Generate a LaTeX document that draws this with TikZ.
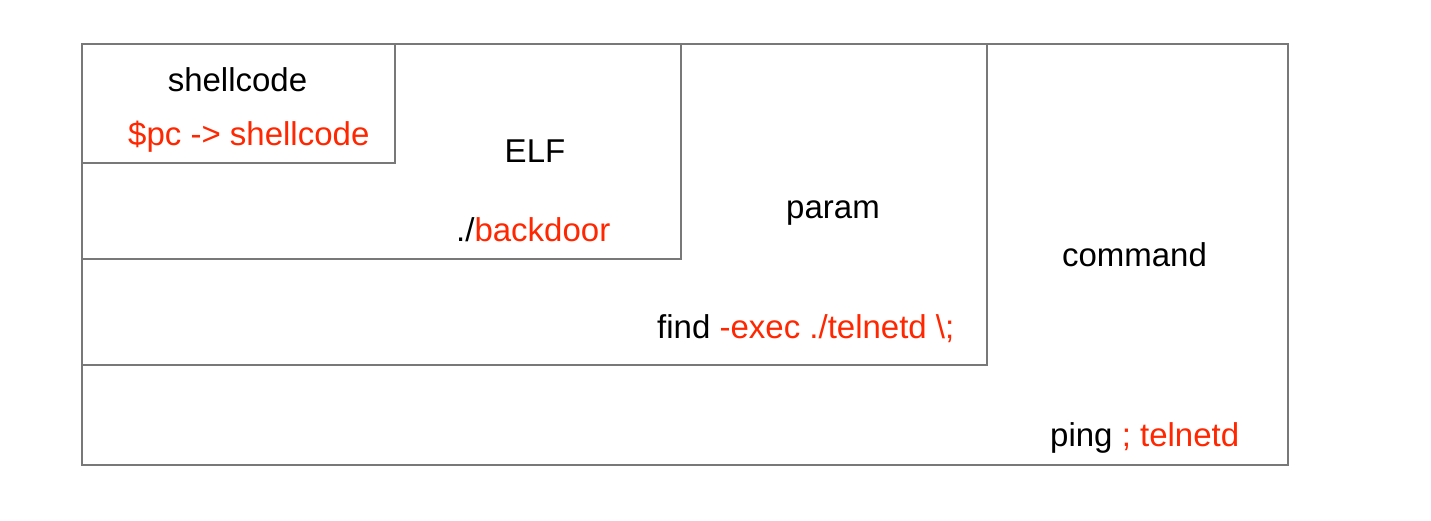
\documentclass[tikz,border=0pt]{standalone}
\usepackage{fontspec}
\setmainfont{Liberation Sans}
\usetikzlibrary{positioning}
\definecolor{boxline}{HTML}{787878}
\definecolor{hot}{HTML}{FF2600}

\begin{document}
\begin{tikzpicture}[x=1pt, y=-1pt,
    box/.style={draw=boxline, line width=1.6pt, anchor=north west, inner sep=0pt},
    lbl/.style={inner sep=0pt, font=\fontsize{33}{38}\selectfont}]
    \useasboundingbox (0,0) rectangle (1431,521);
    \node[box, minimum width=1206pt, minimum height=421pt] (command) at (81,43) {};
    \node[box, minimum width=905pt, minimum height=321pt] (param) at (81,43) {};
    \node[box, minimum width=599pt, minimum height=215pt] (elf) at (81,43) {};
    \node[box, minimum width=313pt, minimum height=119pt] (shellcode) at (81,43) {};
	% labels
    \node[lbl, anchor=base] (t_sc) at (237.5,92) {shellcode};
    \node[lbl, anchor=base west, text=hot] (t_pc) at (128,146) {\$pc -> shellcode};
    \node[lbl, anchor=base] (t_elf) at (535,163) {ELF};
    \node[lbl, anchor=base west] (t_bd) at (456,241) {./\textcolor{hot}{backdoor}};
    \node[lbl, anchor=base] (t_param) at (833,219) {param};
    \node[lbl, anchor=base west] (t_find) at (657,338) {find \textcolor{hot}{-exec ./telnetd \textbackslash;}};
    \node[lbl, anchor=base] (t_cmd) at (1134.5,266) {command};
    \node[lbl, anchor=base west] (t_ping) at (1050,446) {ping \textcolor{hot}{; telnetd}};
\end{tikzpicture}
\end{document}
